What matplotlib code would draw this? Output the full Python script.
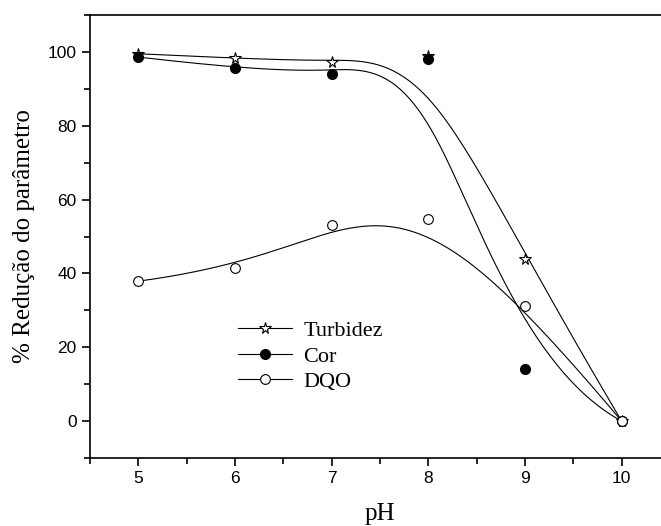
import numpy as np
import matplotlib
matplotlib.use("Agg")
import matplotlib.pyplot as plt
from matplotlib.ticker import MultipleLocator

ph = [5, 6, 7, 8, 9, 10]
turbidez = [99.5, 98.3, 97.2, 98.8, 44.0, 0.0]
cor = [98.6, 95.6, 94.0, 98.1, 14.1, 0.0]
dqo = [37.9, 41.4, 53.2, 54.8, 31.1, 0.0]


def bspline_basis(knots, p, t):
    """Cox-de Boor basis functions of degree p, one column per control point."""
    t = np.asarray(t, float)
    nb = len(knots) - p - 1
    B = np.zeros((len(t), len(knots) - 1))
    for i in range(len(knots) - 1):
        B[:, i] = (knots[i] <= t) & (t < knots[i + 1])
    # close the last span so the end point is included
    last = np.nonzero(np.diff(knots) > 0)[0][-1]
    B[t == knots[-1], last] = 1.0
    for k in range(1, p + 1):
        Bn = np.zeros((len(t), len(knots) - 1 - k))
        for i in range(len(knots) - 1 - k):
            d1 = knots[i + k] - knots[i]
            d2 = knots[i + k + 1] - knots[i + 1]
            if d1 > 0:
                Bn[:, i] += (t - knots[i]) / d1 * B[:, i]
            if d2 > 0:
                Bn[:, i] += (knots[i + k + 1] - t) / d2 * B[:, i + 1]
        B = Bn
    return B[:, :nb]


def bspline_curve(x, y, p=3, num=400):
    """Clamped uniform B-spline using the data points as control points."""
    n = len(x)
    spans = n - p
    knots = np.r_[[0] * p, np.arange(spans + 1), [spans] * p].astype(float)
    t = np.linspace(0, spans, num)
    B = bspline_basis(knots, p, t)
    return B @ np.asarray(x, float), B @ np.asarray(y, float)


fig = plt.figure(figsize=(6.61, 5.26), dpi=100)
ax = fig.add_axes([90 / 661, 68 / 526, 580 / 661, 443 / 526])

for y in (turbidez, cor, dqo):
    cx, cy = bspline_curve(ph, y)
    ax.plot(cx, cy, color="black", lw=0.8, zorder=2)

star = dict(marker="*", ms=8.5, mfc="white", mec="black", mew=0.8)
full = dict(marker="o", ms=7, mfc="black", mec="black")
empty = dict(marker="o", ms=7, mfc="white", mec="black", mew=0.8)

ax.plot(ph, turbidez, ls="none", zorder=3, **star)
ax.plot(ph, cor, ls="none", zorder=4, **full)
ax.plot(ph, dqo, ls="none", zorder=4, **empty)

# legend entries: line - marker - line
h1, = ax.plot([], [], color="black", lw=0.8, **star)
h2, = ax.plot([], [], color="black", lw=0.8, **full)
h3, = ax.plot([], [], color="black", lw=0.8, **empty)
ax.legend([h1, h2, h3], ["Turbidez", "Cor", "DQO"], loc="upper left",
          bbox_to_anchor=(0.255, 0.31), frameon=False, borderpad=0,
          borderaxespad=0, handlelength=2.45, handletextpad=0.5,
          labelspacing=0.22, prop={"family": "Liberation Serif", "size": 16})

ax.set_xlim(4.5, 10.5)
ax.set_ylim(-10, 110)
ax.xaxis.set_major_locator(MultipleLocator(1))
ax.xaxis.set_minor_locator(MultipleLocator(0.5))
ax.yaxis.set_major_locator(MultipleLocator(20))
ax.yaxis.set_minor_locator(MultipleLocator(10))
ax.tick_params(which="both", direction="out", width=1.2, labelsize=12.5)
ax.tick_params(which="major", length=6)
ax.tick_params(which="minor", length=4)
for lab in ax.get_xticklabels() + ax.get_yticklabels():
    lab.set_family("Liberation Sans")

ax.spines["right"].set_visible(False)
for s in ("left", "bottom", "top"):
    ax.spines[s].set_linewidth(1.2)

ax.set_xlabel("pH", family="Liberation Serif", fontsize=18, labelpad=12)
ax.set_ylabel("% Redução do parâmetro", family="Liberation Serif", fontsize=18, labelpad=9)

fig.savefig("out.png", dpi=100)
